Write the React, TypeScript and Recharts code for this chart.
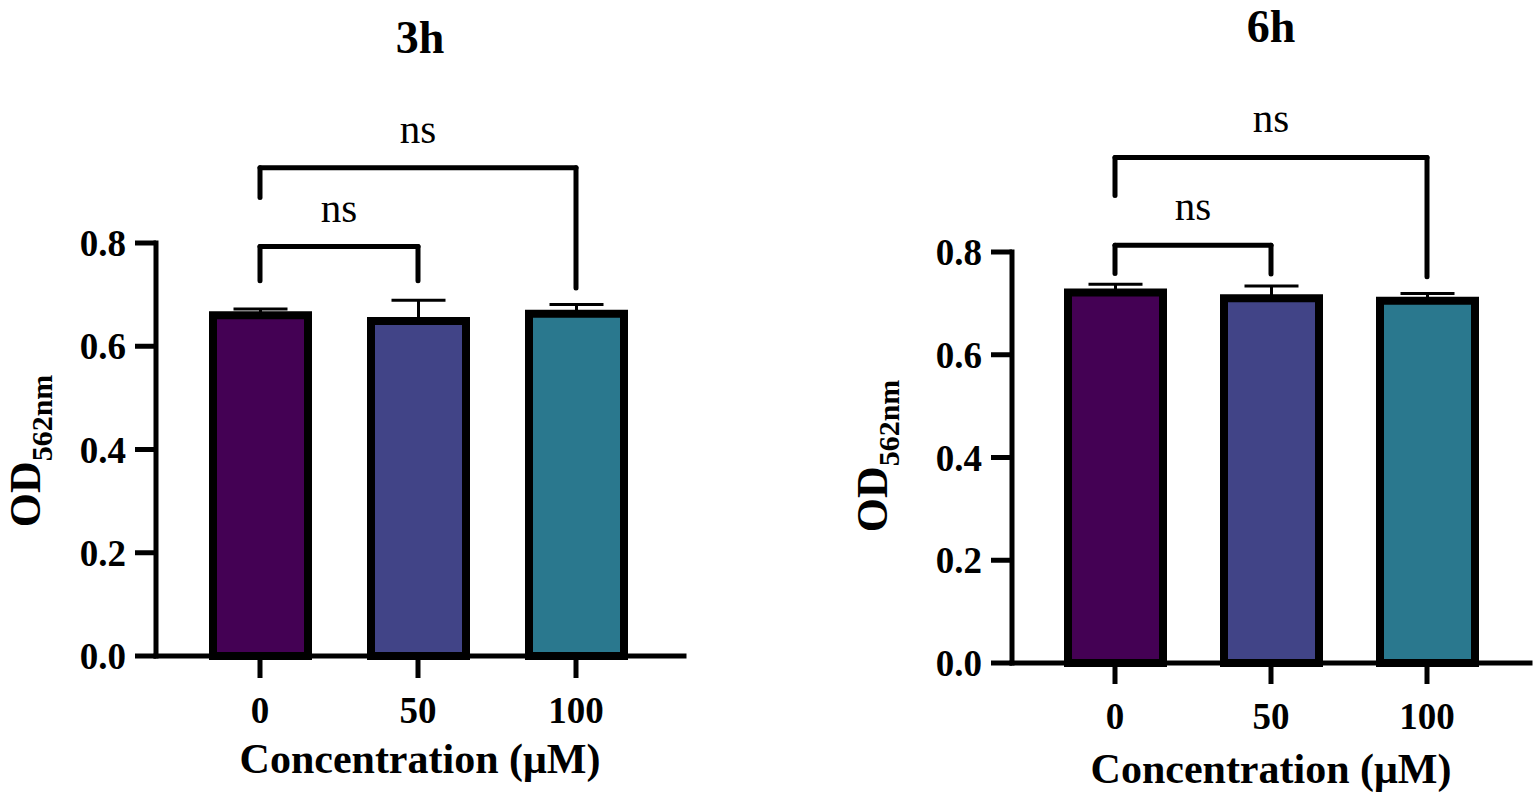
import React from 'react';
import { BarChart, Bar, XAxis, YAxis, ErrorBar, Cell, ReferenceLine } from 'recharts';

const categories = ['0', '50', '100'];
const barColors = ['#440154', '#414487', '#2A788E'];

const means3h = [0.66, 0.649, 0.663];
const errs3h = [0.012, 0.04, 0.018];
const means6h = [0.721, 0.71, 0.705];
const errs6h = [0.016, 0.024, 0.014];

const yTicks = [0, 0.2, 0.4, 0.6, 0.8];

// significance brackets: from / to category, top height, leg ends
const brackets3h = [
  { from: '0', to: '50', top: 0.793, leftEnd: 0.727, rightEnd: 0.727, text: 'ns' },
  { from: '0', to: '100', top: 0.946, leftEnd: 0.888, rightEnd: 0.713, text: 'ns' },
];
const brackets6h = [
  { from: '0', to: '50', top: 0.813, leftEnd: 0.758, rightEnd: 0.757, text: 'ns' },
  { from: '0', to: '100', top: 0.984, leftEnd: 0.91, rightEnd: 0.752, text: 'ns' },
];

const FONT = '"Liberation Serif", "Times New Roman", serif';

const makeRows = (means: number[], errs: number[]) =>
  categories.map((c, i) => ({ conc: c, od: means[i], err: [0, errs[i]] }));

const bracketLine = (p: any) => (
  <path
    d={`M${p.x1},${p.y1}L${p.x2},${p.y2}`}
    fill="none"
    style={{ stroke: '#000', strokeWidth: 5, strokeLinecap: 'round' }}
  />
);

interface PanelProps {
  title: string;
  means: number[];
  errs: number[];
  brackets: typeof brackets3h;
  plot: { left: number; right: number; top: number; bottom: number };
  padding: { left: number; right: number };
  titleY: number;
  yLabelX: number;
  yLabelY: number;
  xLabelDy: number;
  tickSize: number;
}

const Panel: React.FC<PanelProps> = ({ title, means, errs, brackets, plot, padding, titleY, yLabelX, yLabelY, xLabelDy, tickSize }) => {
  const W = 768;
  const H = 801;
  const data = makeRows(means, errs);
  const cx = (plot.left + plot.right) / 2;
  return (
    <BarChart
      width={W}
      height={H}
      data={data}
      margin={{ top: plot.top, right: W - plot.right, left: 0, bottom: 0 }}
      style={{ fontFamily: FONT }}
    >
      <XAxis
        dataKey="conc"
        padding={padding}
        height={H - plot.bottom}
        tickSize={tickSize}
        tickMargin={19}
        axisLine={{ stroke: '#000', strokeWidth: 5, strokeLinecap: 'square' }}
        tickLine={{ stroke: '#000', strokeWidth: 5 }}
        tick={{ fill: '#000', fontSize: 37, fontWeight: 'bold', fontFamily: FONT }}
      />
      <YAxis
        width={plot.left}
        domain={[0, 0.8]}
        ticks={yTicks}
        interval={0}
        tickFormatter={(v) => v.toFixed(1)}
        tickSize={21}
        tickMargin={9}
        axisLine={{ stroke: '#000', strokeWidth: 5, strokeLinecap: 'square' }}
        tickLine={{ stroke: '#000', strokeWidth: 5 }}
        tick={{ fill: '#000', fontSize: 37, fontWeight: 'bold', fontFamily: FONT }}
      />
      <Bar dataKey="od" barSize={95} stroke="#000" strokeWidth={8} isAnimationActive={false}>
        {data.map((d, i) => (
          <Cell key={d.conc} fill={barColors[i]} />
        ))}
        <ErrorBar dataKey="err" width={27} strokeWidth={3} stroke="#000" direction="y" isAnimationActive={false} />
      </Bar>
      {brackets.map((b, i) => (
        <React.Fragment key={i}>
          <ReferenceLine
            segment={[{ x: b.from, y: b.top }, { x: b.to, y: b.top }]}
            ifOverflow="visible"
            stroke="#000"
            strokeWidth={5}
            shape={bracketLine}
            label={{ value: b.text, position: 'top', offset: 25, fill: '#000', fontSize: 41, fontFamily: FONT }}
          />
          <ReferenceLine
            segment={[{ x: b.from, y: b.top }, { x: b.from, y: b.leftEnd }]}
            ifOverflow="visible"
            stroke="#000"
            strokeWidth={5}
            shape={bracketLine}
          />
          <ReferenceLine
            segment={[{ x: b.to, y: b.top }, { x: b.to, y: b.rightEnd }]}
            ifOverflow="visible"
            stroke="#000"
            strokeWidth={5}
            shape={bracketLine}
          />
        </React.Fragment>
      ))}
      <text x={cx} y={titleY} textAnchor="middle" fontSize={46} fontWeight="bold" fontFamily={FONT} fill="#000">
        {title}
      </text>
      <text
        x={cx}
        y={plot.bottom + xLabelDy}
        textAnchor="middle"
        fontSize={42}
        fontWeight="bold"
        fontFamily={FONT}
        fill="#000"
      >
        Concentration (μM)
      </text>
      <text
        x={yLabelX}
        y={yLabelY}
        transform={`rotate(-90, ${yLabelX}, ${yLabelY})`}
        textAnchor="middle"
        fontWeight="bold"
        fontFamily={FONT}
        fill="#000"
      >
        <tspan fontSize={44}>OD</tspan>
        <tspan fontSize={30} dy={12}>562nm</tspan>
      </text>
    </BarChart>
  );
};

export default function App() {
  return (
    <div style={{ position: 'absolute', left: 0, top: 0, width: 1536, height: 801, background: '#fff', display: 'flex' }}>
      <Panel
        title="3h"
        means={means3h}
        errs={errs3h}
        brackets={brackets3h}
        plot={{ left: 156, right: 684, top: 243, bottom: 656 }}
        padding={{ left: 25, right: 29 }}
        titleY={53}
        yLabelX={40}
        yLabelY={451}
        xLabelDy={117}
        tickSize={22}
      />
      <Panel
        title="6h"
        means={means6h}
        errs={errs6h}
        brackets={brackets6h}
        plot={{ left: 244, right: 762, top: 252, bottom: 663 }}
        padding={{ left: 25, right: 25 }}
        titleY={42}
        yLabelX={119}
        yLabelY={456}
        xLabelDy={120}
        tickSize={21}
      />
    </div>
  );
}
